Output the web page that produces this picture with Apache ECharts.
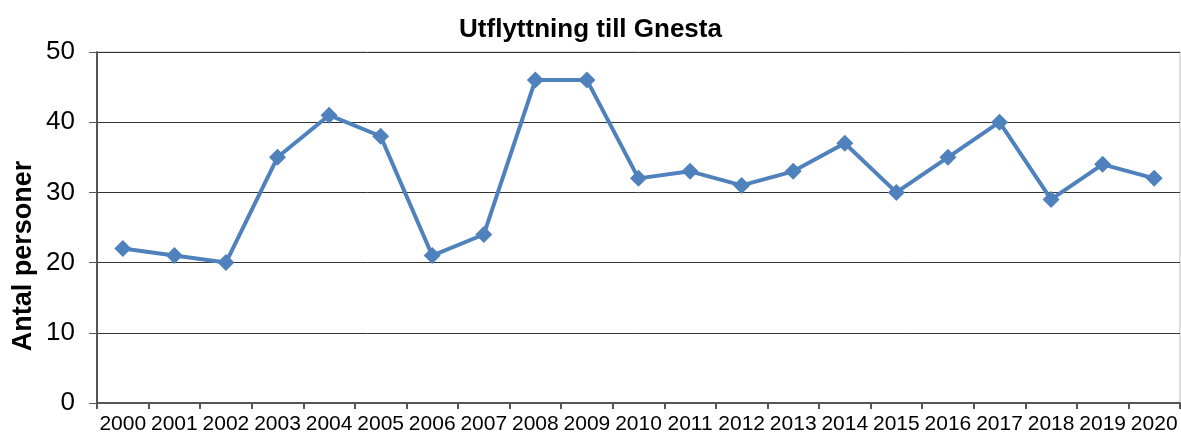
<!DOCTYPE html>
<html>
<head>
<meta charset="utf-8">
<script src="https://cdn.jsdelivr.net/npm/echarts@6/dist/echarts.min.js"></script>
<style>
  html, body { margin: 0; padding: 0; background: #fff; }
  #chart { width: 1181px; height: 439px; }
</style>
</head>
<body>
<div id="chart"></div>
<script>
var years = ['2000', '2001', '2002', '2003', '2004', '2005', '2006', '2007', '2008', '2009', '2010',
    '2011', '2012', '2013', '2014', '2015', '2016', '2017', '2018', '2019', '2020'];
var antal = [22, 21, 20, 35, 41, 38, 21, 24, 46, 46, 32, 33, 31, 33, 37, 30, 35, 40, 29, 34, 32];

var myChart = echarts.init(document.getElementById('chart'));
var option = {
    animation: false,
    textStyle: { fontFamily: 'Liberation Sans, Arial, sans-serif' },
    title: {
        text: 'Utflyttning till Gnesta',
        left: 'center',
        top: 12,
        textStyle: { fontSize: 26, fontWeight: 'bold', color: '#000' }
    },
    grid: {
        left: 97,
        right: 1,
        top: 52,
        bottom: 36,
        show: true,
        borderColor: '#bdbdbd',
        borderWidth: 1
    },
    graphic: [{
        type: 'text',
        x: 24,
        y: 256,
        rotation: Math.PI / 2,
        style: {
            text: 'Antal personer',
            font: 'bold 27px Liberation Sans, Arial, sans-serif',
            fill: '#000',
            align: 'center',
            verticalAlign: 'middle'
        }
    }],
    xAxis: {
        type: 'category',
        data: years,
        boundaryGap: true,
        axisLine: { lineStyle: { color: '#555', width: 2 } },
        axisTick: { show: true, length: 6, lineStyle: { color: '#555', width: 2 } },
        axisLabel: { fontSize: 21, color: '#000', margin: 11, interval: 0 }
    },
    yAxis: {
        type: 'value',
        min: 0,
        max: 50,
        interval: 10,
        axisLine: { show: true, lineStyle: { color: '#555', width: 2 } },
        axisTick: { show: true, length: 8, lineStyle: { color: '#555', width: 1 } },
        axisLabel: { fontSize: 26, color: '#000', margin: 22 },
        splitLine: { lineStyle: { color: '#333', width: 1 } }
    },
    series: [{
        type: 'line',
        data: antal,
        symbol: 'diamond',
        symbolSize: 17,
        lineStyle: { color: '#4F81BD', width: 4 },
        itemStyle: { color: '#4F81BD' }
    }]
};
myChart.setOption(option);
window.addEventListener('resize', function () {
    myChart.resize();
});
</script>
</body>
</html>
